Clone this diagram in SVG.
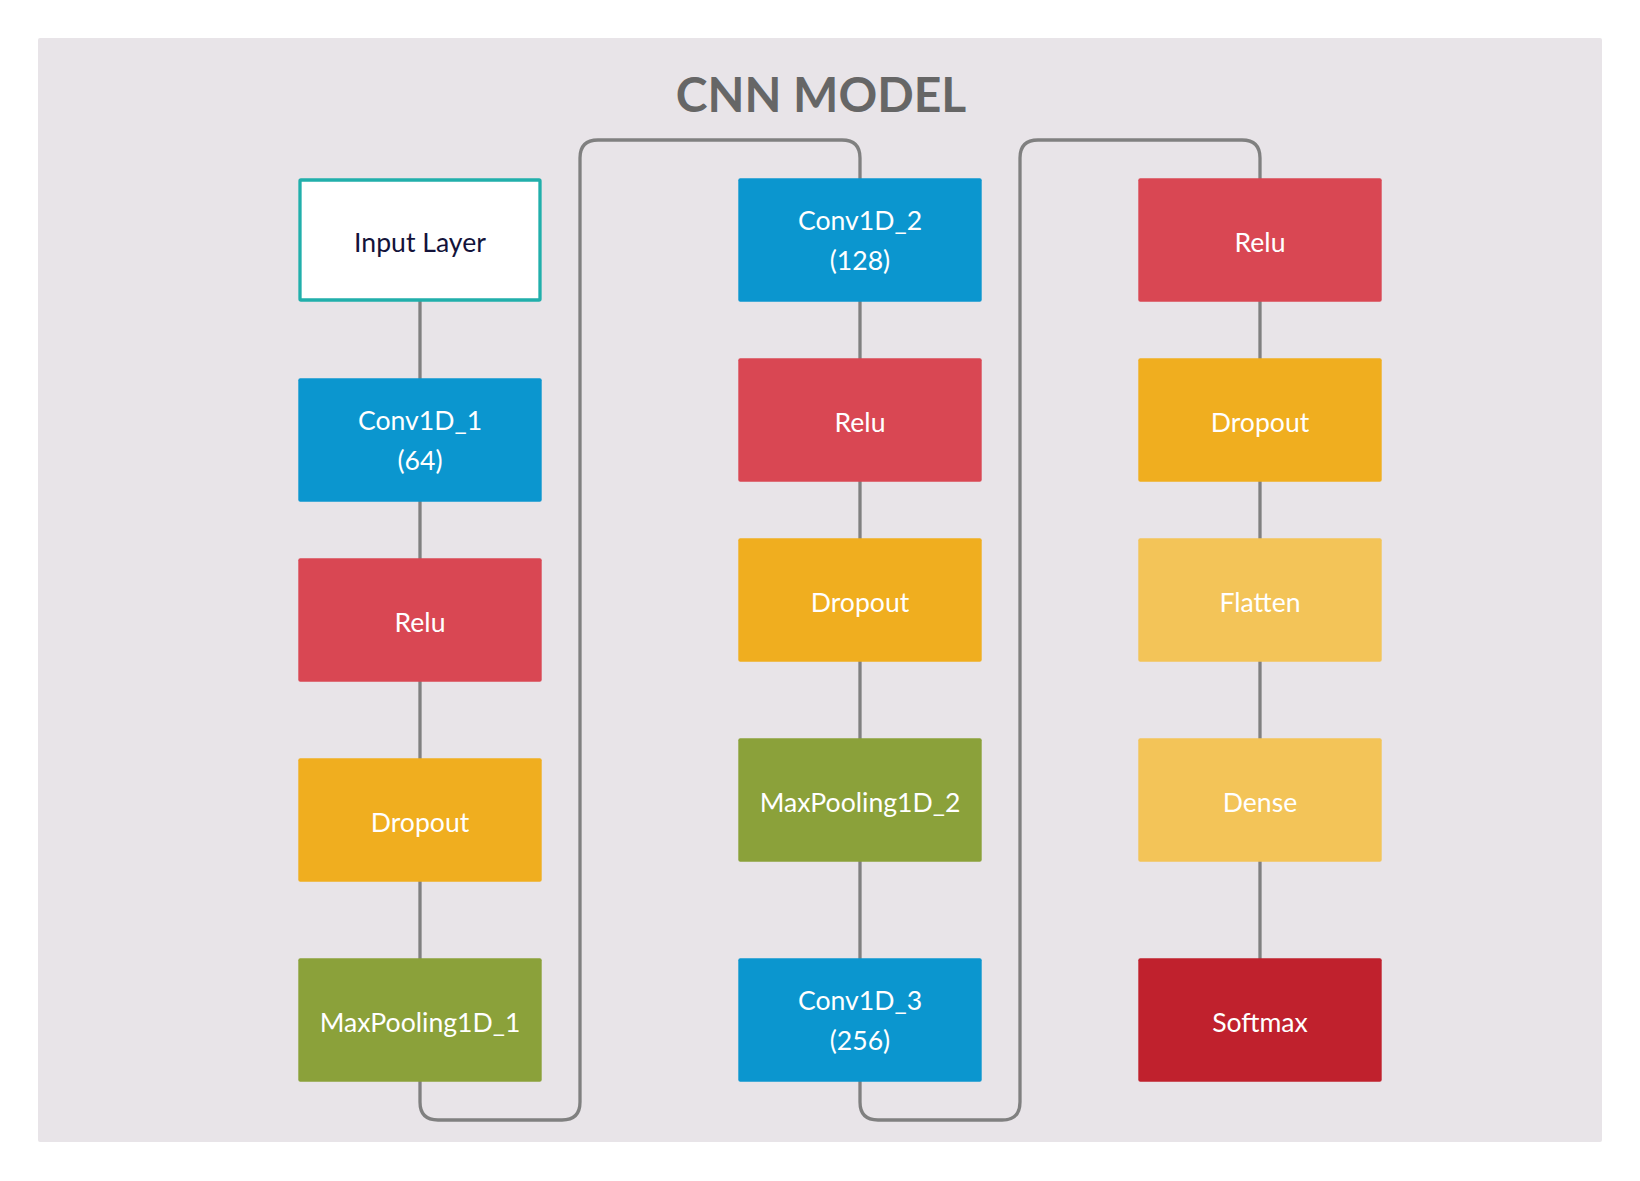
<svg xmlns="http://www.w3.org/2000/svg" width="1640" height="1181" viewBox="0 0 1640 1181">
<style>
.bg{fill:#e8e4e8}
.title{font-family:Lato,"Liberation Sans",sans-serif;font-weight:bold;font-size:48px;fill:#666666;text-anchor:middle}
.lbl{font-family:Lato,"Liberation Sans",sans-serif;font-size:26.6px;fill:#ffffff;text-anchor:middle}
.dark{fill:#13133a}
.conn{fill:none;stroke:#808080;stroke-width:3.3;stroke-linecap:round;stroke-linejoin:round}
.blue{fill:#0b96cf}
.red{fill:#d94753}
.orange{fill:#f0ae1f}
.yellow{fill:#f3c458}
.green{fill:#8ba13a}
.dred{fill:#c0212d}
.input{fill:#ffffff;stroke:#21afab;stroke-width:3.3}
</style>
<rect width="1640" height="1181" fill="#ffffff"/>
<rect class="bg" x="38" y="38" width="1564" height="1104" rx="2"/>
<text class="title" x="821" y="112">CNN MODEL</text>
<g id="connectors">
<path class="conn" d="M420 300 V380"/>
<path class="conn" d="M420 500 V560"/>
<path class="conn" d="M420 680 V760"/>
<path class="conn" d="M420 880 V960"/>
<path class="conn" d="M420 1080 V1102 Q420 1120 438 1120 H562 Q580 1120 580 1102 V158 Q580 140 598 140 H842 Q860 140 860 158 V180"/>
<path class="conn" d="M860 300 V360"/>
<path class="conn" d="M860 480 V540"/>
<path class="conn" d="M860 660 V740"/>
<path class="conn" d="M860 860 V960"/>
<path class="conn" d="M860 1080 V1102 Q860 1120 878 1120 H1002 Q1020 1120 1020 1102 V158 Q1020 140 1038 140 H1242 Q1260 140 1260 158 V180"/>
<path class="conn" d="M1260 300 V360"/>
<path class="conn" d="M1260 480 V540"/>
<path class="conn" d="M1260 660 V740"/>
<path class="conn" d="M1260 860 V960"/>
</g>
<g id="input_layer">
<rect class="input" x="300" y="180" width="240" height="120" rx="1"/>
<text class="lbl dark" x="420" y="251.5">Input Layer</text>
</g>
<g id="conv1d_1">
<rect class="blue" x="298.3" y="378.3" width="243.4" height="123.4" rx="2"/>
<text class="lbl" x="420" y="430">Conv1D_1</text>
<text class="lbl" x="420" y="469.5">(64)</text>
</g>
<g id="relu_1">
<rect class="red" x="298.3" y="558.3" width="243.4" height="123.4" rx="2"/>
<text class="lbl" x="420" y="631.5">Relu</text>
</g>
<g id="dropout_1">
<rect class="orange" x="298.3" y="758.3" width="243.4" height="123.4" rx="2"/>
<text class="lbl" x="420" y="831.5">Dropout</text>
</g>
<g id="maxpool_1">
<rect class="green" x="298.3" y="958.3" width="243.4" height="123.4" rx="2"/>
<text class="lbl" x="420" y="1031.5">MaxPooling1D_1</text>
</g>
<g id="conv1d_2">
<rect class="blue" x="738.3" y="178.3" width="243.4" height="123.4" rx="2"/>
<text class="lbl" x="860" y="230">Conv1D_2</text>
<text class="lbl" x="860" y="269.5">(128)</text>
</g>
<g id="relu_2">
<rect class="red" x="738.3" y="358.3" width="243.4" height="123.4" rx="2"/>
<text class="lbl" x="860" y="431.5">Relu</text>
</g>
<g id="dropout_2">
<rect class="orange" x="738.3" y="538.3" width="243.4" height="123.4" rx="2"/>
<text class="lbl" x="860" y="611.5">Dropout</text>
</g>
<g id="maxpool_2">
<rect class="green" x="738.3" y="738.3" width="243.4" height="123.4" rx="2"/>
<text class="lbl" x="860" y="811.5">MaxPooling1D_2</text>
</g>
<g id="conv1d_3">
<rect class="blue" x="738.3" y="958.3" width="243.4" height="123.4" rx="2"/>
<text class="lbl" x="860" y="1010">Conv1D_3</text>
<text class="lbl" x="860" y="1049.5">(256)</text>
</g>
<g id="relu_3">
<rect class="red" x="1138.3" y="178.3" width="243.4" height="123.4" rx="2"/>
<text class="lbl" x="1260" y="251.5">Relu</text>
</g>
<g id="dropout_3">
<rect class="orange" x="1138.3" y="358.3" width="243.4" height="123.4" rx="2"/>
<text class="lbl" x="1260" y="431.5">Dropout</text>
</g>
<g id="flatten">
<rect class="yellow" x="1138.3" y="538.3" width="243.4" height="123.4" rx="2"/>
<text class="lbl" x="1260" y="611.5">Flatten</text>
</g>
<g id="dense">
<rect class="yellow" x="1138.3" y="738.3" width="243.4" height="123.4" rx="2"/>
<text class="lbl" x="1260" y="811.5">Dense</text>
</g>
<g id="softmax">
<rect class="dred" x="1138.3" y="958.3" width="243.4" height="123.4" rx="2"/>
<text class="lbl" x="1260" y="1031.5">Softmax</text>
</g>
</svg>
